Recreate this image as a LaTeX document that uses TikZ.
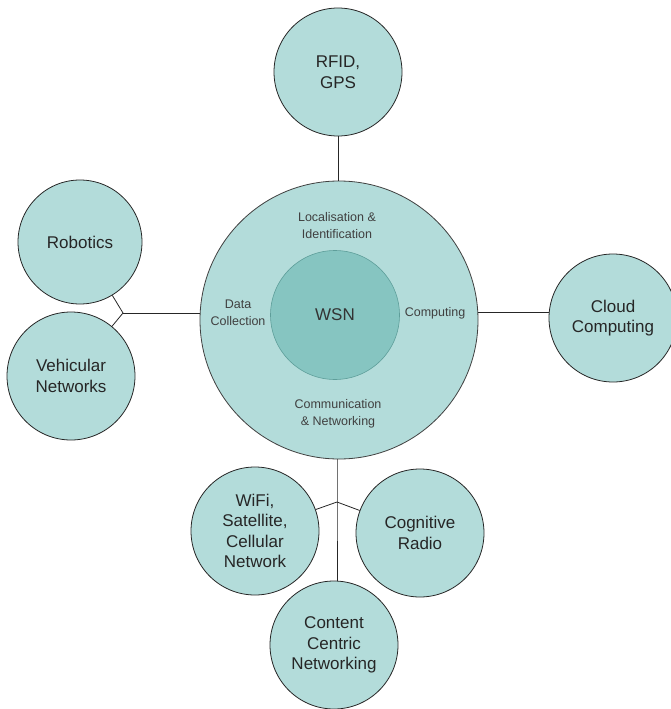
\documentclass[tikz,border=0pt]{standalone}
\usepackage{fontspec}
\setmainfont{Liberation Sans}
\begin{document}
\begin{tikzpicture}[x=1pt,y=-1pt,
  leaf/.style={circle,draw=black!85,line width=0.8pt,fill=tealfill,minimum size=128pt,inner sep=0pt,align=center,text=black!85,font=\fontsize{17}{20.5}\selectfont},
  hub/.style={circle,draw=black!75,line width=0.8pt,fill=tealfill,minimum size=278pt,inner sep=0pt},
  core/.style={circle,draw=tealedge,line width=0.6pt,fill=tealdark,minimum size=129pt,inner sep=0pt,text=black!80,font=\fontsize{17}{20}\selectfont},
  area/.style={align=center,text=black!75,font=\fontsize{12.5}{17}\selectfont},
  link/.style={draw=black!85,line width=0.8pt}]
\definecolor{tealfill}{HTML}{B3DCDA}
\definecolor{tealdark}{HTML}{86C5C1}
\definecolor{tealedge}{HTML}{5E9E9A}
\useasboundingbox (0,0) rectangle (670,709);

\node[hub] (big) at (339,320) {};
\node[core] (wsn) at (335,315) {WSN};

\node[area] (loc) at (337,226) {Localisation \&\\Identification};
\node[area] (data) at (238,313) {Data\\Collection};
\node[area] (comp) at (435,313) {Computing};
\node[area] (comm) at (338,414) {Communication\\\& Networking};

\node[leaf] (rfid) at (338,72) {RFID,\\GPS};
\node[leaf,minimum size=124pt] (robotics) at (80,242) {Robotics};
\node[leaf] (vehicular) at (71,376) {Vehicular\\Networks};
\node[leaf] (cloud) at (613,318) {Cloud\\Computing};
\node[leaf] (wifi) at (255,531) {WiFi,\\Satellite,\\Cellular\\Network};
\node[leaf] (cognitive) at (420,533) {Cognitive\\Radio};
\node[leaf] (content) at (334,645) {Content\\Centric\\Networking};

\coordinate (jl) at (123,313);
\coordinate (jb) at (337,502);

\draw[link] (rfid.south) -- (rfid.south |- big.north);
\draw[link] (robotics) -- (jl) -- (vehicular);
\draw[link] (jl) -- (jl -| big.west);
\draw[link] (big.east |- 0,312) -- (cloud.west |- 0,312);
\draw[link] (big.south -| jb) -- (jb) -- (jb |- content.north);
\draw[link] (wifi) -- (jb) -- (cognitive);
\end{tikzpicture}
\end{document}
